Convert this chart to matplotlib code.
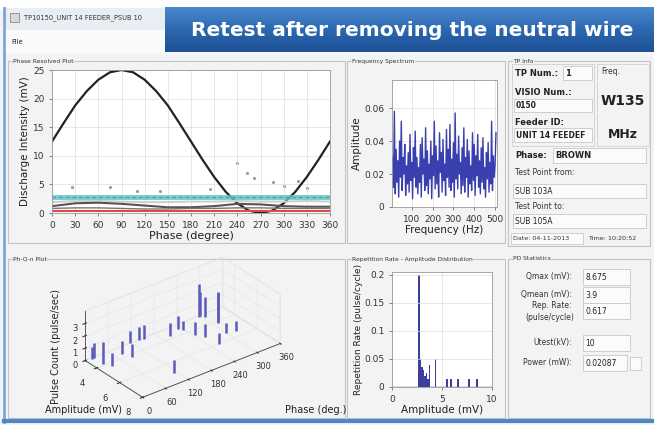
import numpy as np
import matplotlib
matplotlib.use("Agg")
import matplotlib.pyplot as plt
from matplotlib.patches import Rectangle
from matplotlib.colors import LinearSegmentedColormap

W, H = 654, 425

# --- phase resolved plot data ---
phase_deg = [0, 15, 30, 45, 60, 75, 90, 105, 120, 135, 150, 165, 180,
             195, 210, 225, 240, 255, 270, 285, 300, 315, 330, 345, 360]
sine_ref = [12.5, 15.7, 18.8, 21.3, 23.3, 24.6, 25.0, 24.6, 23.3, 21.3, 18.8, 15.7, 12.5,
            9.3, 6.3, 3.7, 1.7, 0.4, 0.0, 0.4, 1.7, 3.7, 6.3, 9.3, 12.5]
trend_phase = [0, 30, 60, 90, 120, 150, 180, 210, 240, 270, 300, 330, 360]
trend_upper = [1.9, 2.1, 2.1, 2.0, 1.9, 1.9, 2.0, 2.0, 2.1, 2.0, 2.0, 2.1, 2.0]
trend_mid = [1.2, 1.7, 1.8, 1.6, 1.3, 1.0, 1.0, 1.2, 1.6, 1.5, 1.2, 1.1, 1.1]
trend_low = [0.8, 0.9, 0.9, 0.8, 0.7, 0.7, 0.8, 0.8, 0.9, 0.9, 0.8, 0.8, 0.8]
noise_level = 2.8
threshold = 0.35
scatter_phase = [26, 75, 140, 205, 240, 252, 262, 286, 300, 318, 110, 330]
scatter_val = [4.5, 4.6, 3.9, 4.2, 8.7, 7.0, 6.1, 5.4, 4.8, 5.6, 3.8, 4.3]

# --- frequency spectrum ---
spec_amp = [0.030, 0.012, 0.058, 0.008, 0.035, 0.015, 0.028, 0.006, 0.040, 0.018,
            0.052, 0.010, 0.030, 0.020, 0.038, 0.007, 0.025, 0.014, 0.033, 0.009,
            0.044, 0.016, 0.027, 0.005, 0.036, 0.018, 0.046, 0.012, 0.030, 0.008,
            0.024, 0.015, 0.038, 0.006, 0.042, 0.020, 0.029, 0.010, 0.048, 0.013,
            0.034, 0.008, 0.026, 0.017, 0.040, 0.005, 0.031, 0.019, 0.052, 0.011,
            0.037, 0.014, 0.028, 0.006, 0.045, 0.021, 0.033, 0.009, 0.041, 0.016,
            0.026, 0.007, 0.047, 0.018, 0.035, 0.012, 0.050, 0.010, 0.029, 0.015,
            0.039, 0.006, 0.057, 0.017, 0.032, 0.011, 0.043, 0.020, 0.027, 0.008,
            0.036, 0.013, 0.048, 0.009, 0.030, 0.018, 0.041, 0.006, 0.034, 0.014,
            0.025, 0.010, 0.045, 0.016, 0.038, 0.007, 0.031, 0.019, 0.044, 0.012,
            0.028, 0.008, 0.036, 0.015, 0.042, 0.011, 0.024, 0.006, 0.033, 0.017,
            0.039, 0.009, 0.027, 0.014, 0.052, 0.010, 0.031, 0.018, 0.026, 0.045]
spec_freq = np.linspace(8, 505, len(spec_amp))

# --- repetition rate vs amplitude ---
rep_amp = [2.7, 2.85, 3.0, 3.15, 3.3, 3.45, 3.6, 3.75, 4.35, 5.5, 5.9, 6.6, 7.7, 8.5]
rep_rate = [0.2, 0.05, 0.035, 0.03, 0.02, 0.025, 0.015, 0.04, 0.05, 0.015, 0.015, 0.015, 0.015, 0.015]

# --- Ph-Q-n bars ---
bar_amp = [3.1, 3.05, 3.85, 4.3, 3.64, 3.0, 4.27, 3.0, 3.1, 3.7, 7.0, 3.36,
           3.7, 3.0, 3.1, 3.3, 4.5, 5.0, 4.2, 4.1, 6.0, 5.3, 5.45]
bar_phase = [16, 22, 22, 30, 78, 117, 83, 140, 150, 202, 113, 231,
             236, 301, 296, 305, 243, 254, 311, 314, 260, 299, 321]
bar_count = [1.0, 1.2, 1.7, 1.0, 1.05, 1.0, 1.1, 1.0, 1.1, 1.0, 1.05, 1.05,
             0.8, 1.9, 2.7, 1.6, 1.05, 1.1, 2.4, 2.4, 0.9, 0.8, 0.8]


def rect(x0, y0, x1, y1):
    return [x0 / W, 1 - y1 / H, (x1 - x0) / W, (y1 - y0) / H]


fig = plt.figure(figsize=(6.54, 4.25), dpi=100, facecolor="#f3f3f3")
bg = fig.add_axes([0, 0, 1, 1], zorder=0)
bg.set_xlim(0, W)
bg.set_ylim(H, 0)
bg.axis("off")

# window chrome
bg.add_patch(Rectangle((0, 0), W, 8, color="white"))
bg.add_patch(Rectangle((4, 8), W, 22, color="#e9eef4"))
bg.add_patch(Rectangle((4, 30), W, 22, color="#fafafa"))
bg.plot([4, 4], [8, 422], color="#7ea6d6", lw=2)
bg.plot([4, W], [421, 421], color="#4f86c6", lw=3)
bg.add_patch(Rectangle((10, 13), 9, 9, fc="#d9d9d9", ec="#888888", lw=0.6))
bg.text(24, 18, "TP10150_UNIT 14 FEEDER_PSUB 10", fontsize=4.8, va="center", color="#333333")
bg.text(11, 42, "File", fontsize=5, va="center", color="#222222")

# banner
grad = np.linspace(0, 1, 50).reshape(-1, 1)
cmap = LinearSegmentedColormap.from_list("bn", ["#4a88cc", "#2c68b0", "#1d4f95"])
bg.imshow(grad, cmap=cmap, extent=[165, W, 52, 7], aspect="auto", zorder=2)
bg.text(412, 30, "Retest after removing the neutral wire", color="white",
        fontsize=14.5, fontweight="bold", ha="center", va="center", zorder=3)

# panels
panels = [(8, 61, 345, 243, "Phase Resolved Plot"),
          (347, 61, 505, 243, "Frequency Spectrum"),
          (508, 61, 650, 246, "TP Info"),
          (8, 259, 345, 418, "Ph-Q-n Plot"),
          (347, 259, 505, 418, "Repetition Rate - Amplitude Distribution"),
          (508, 259, 650, 418, "PD Statistics")]
for x0, y0, x1, y1, name in panels:
    bg.add_patch(Rectangle((x0, y0), x1 - x0, y1 - y0, fill=False, ec="#c4c4c4", lw=0.8))
    bg.text(x0 + 5, y0, name, fontsize=4.3, va="center", color="#333333",
            bbox=dict(fc="#f3f3f3", ec="none", pad=0.3))


def field(x0, y0, x1, y1, txt="", fs=5.5, bold=False):
    bg.add_patch(Rectangle((x0, y0), x1 - x0, y1 - y0, fc="#fbfbfb", ec="#c8c8c8", lw=0.6))
    if txt:
        bg.text(x0 + 2, (y0 + y1) / 2, txt, fontsize=fs, va="center", color="#222222",
                fontweight="bold" if bold else "normal")


# TP info
bold = dict(fontsize=6, fontweight="bold", va="center", color="#222222")
norm = dict(fontsize=5.5, va="center", color="#333333")
bg.add_patch(Rectangle((512, 64), 82, 82, fill=False, ec="#d0d0d0", lw=0.6))
bg.add_patch(Rectangle((597, 64), 52, 82, fill=False, ec="#d0d0d0", lw=0.6))
bg.text(515, 73, "TP Num.:", **bold)
field(563, 66, 592, 80, "1", fs=6, bold=True)
bg.text(601, 71, "Freq.", **norm)
bg.text(515, 92, "VISIO Num.:", **bold)
field(514, 99, 592, 112, "0150", fs=5.5, bold=True)
bg.text(623, 101, "W135", fontsize=10, fontweight="bold", ha="center", va="center", color="#222222")
bg.text(515, 122, "Feeder ID:", **bold)
field(514, 128, 592, 142, "UNIT 14 FEEDEF", fs=5.5, bold=True)
bg.text(623, 134, "MHz", fontsize=9, fontweight="bold", ha="center", va="center", color="#222222")
bg.text(515, 155, "Phase:", **bold)
field(553, 148, 646, 163, "BROWN", fs=6, bold=True)
bg.text(515, 172, "Test Point from:", **norm)
field(513, 184, 646, 198, "SUB 103A", fs=5.5)
bg.text(515, 206, "Test Point to:", **norm)
field(513, 214, 646, 228, "SUB 105A", fs=5.5)
field(511, 233, 583, 244)
bg.text(513, 238.5, "Date: 04-11-2013", fontsize=4.6, va="center", color="#333333")
bg.text(588, 238.5, "Time: 10:20:52", fontsize=4.6, va="center", color="#333333")

# PD statistics
stats_lab = ["Qmax (mV):", "Qmean (mV):", "Utest(kV):", "Power (mW):"]
stats_y = [277, 295, 343, 363]
stats_val = ["8.675", "3.9", "10", "0.02087"]
for lab, yy, val in zip(stats_lab, stats_y, stats_val):
    bg.text(572, yy, lab, ha="right", **norm)
    field(583, yy - 8, 627 if lab.startswith("Power") else 630, yy + 8, val, fs=5.5)
bg.text(572, 305, "Rep. Rate:", ha="right", **norm)
bg.text(574, 317, "(pulse/cycle)", ha="right", **norm)
field(583, 303, 630, 319, "0.617", fs=5.5)
field(630, 357, 641, 370)

tick_kw = dict(labelsize=6.5, length=2, width=0.5, color="#555555", labelcolor="#333333")

# phase resolved plot
ax1 = fig.add_axes(rect(52, 70, 330, 213), zorder=2)
ax1.plot(phase_deg, sine_ref, color="#222222", lw=1.6)
ax1.plot([0, 360], [noise_level, noise_level], color="#55c6c8", lw=3.5, alpha=0.85)
ax1.plot([0, 360], [noise_level, noise_level], color="#6f8f90", lw=0.8, ls=(0, (3, 3)))
ax1.plot(trend_phase, trend_upper, color="#cfcfcf", lw=1.5)
ax1.plot(trend_phase, trend_mid, color="#555555", lw=1.5)
ax1.plot(trend_phase, trend_low, color="#777777", lw=1.0)
ax1.plot([0, 360], [threshold, threshold], color="#e04848", lw=1.5)
ax1.scatter(scatter_phase, scatter_val, s=1.5, color="#9a9a9a")
ax1.set_xlim(0, 360)
ax1.set_ylim(0, 25)
ax1.set_xticks(range(0, 361, 30))
ax1.set_yticks(range(0, 26, 5))
ax1.grid(color="#dddddd", lw=0.5)
ax1.tick_params(**tick_kw)
ax1.set_xlabel("Phase (degree)", fontsize=8, labelpad=1, color="#222222")
ax1.set_ylabel("Discharge Intensity (mV)", fontsize=7.5, labelpad=2, color="#222222")
for s in ax1.spines.values():
    s.set_color("#999999")
    s.set_linewidth(0.6)

# frequency spectrum
ax2 = fig.add_axes(rect(392, 80, 497, 207), zorder=2)
ax2.plot(spec_freq, spec_amp, color="#3a3fb0", lw=1.0)
ax2.set_xlim(5, 510)
ax2.set_ylim(0, 0.077)
ax2.set_xticks([100, 200, 300, 400, 500])
ax2.set_yticks([0, 0.02, 0.04, 0.06])
ax2.set_yticklabels(["0", "0.02", "0.04", "0.06"])
ax2.grid(color="#dddddd", lw=0.5)
ax2.tick_params(**tick_kw)
ax2.set_xlabel("Frequency (Hz)", fontsize=7.5, labelpad=1, color="#222222")
ax2.set_ylabel("Amplitude", fontsize=7.5, labelpad=2, color="#222222")
for s in ax2.spines.values():
    s.set_color("#999999")
    s.set_linewidth(0.6)

# repetition rate
ax3 = fig.add_axes(rect(392, 272, 492, 387), zorder=2)
ax3.bar(rep_amp, rep_rate, width=0.18, color="#3c3f9e")
ax3.plot([0, 10], [0, 0], color="#3c3f9e", lw=1)
ax3.set_xlim(0, 10)
ax3.set_ylim(0, 0.205)
ax3.set_xticks([0, 5, 10])
ax3.set_yticks([0, 0.05, 0.1, 0.15, 0.2])
ax3.set_yticklabels(["0", "0.05", "0.1", "0.15", "0.2"])
ax3.grid(color="#dddddd", lw=0.5)
ax3.tick_params(**tick_kw)
ax3.set_xlabel("Amplitude (mV)", fontsize=7.5, labelpad=1, color="#222222")
ax3.set_ylabel("Repetition Rate (pulse/cycle)", fontsize=6.5, labelpad=1, color="#222222")
for s in ax3.spines.values():
    s.set_color("#999999")
    s.set_linewidth(0.6)

# Ph-Q-n 3D plot
ax4 = fig.add_axes(rect(30, 230, 330, 430), projection="3d", zorder=2)
ax4.set_proj_type("ortho")
ax4.set_facecolor("none")
for a, p, c in zip(bar_amp, bar_phase, bar_count):
    ax4.plot([a, a], [p, p], [0, c], color="#5a5cbc", lw=1.8, solid_capstyle="butt")
ax4.set_xlim(3, 8)
ax4.set_ylim(0, 360)
ax4.set_zlim(0, 4)
ax4.set_xticks([4, 6, 8])
ax4.set_yticks(range(0, 361, 60))
ax4.set_zticks([0, 1, 2, 3])
ax4.view_init(elev=30, azim=-38)
ax4.set_box_aspect((93, 174, 57), zoom=1.0)
ax4.zaxis.set_ticks_position("lower")
for axis in (ax4.xaxis, ax4.yaxis, ax4.zaxis):
    axis.pane.fill = False
    axis.pane.set_edgecolor("#dddddd")
    axis._axinfo["grid"]["color"] = "#e6e6e6"
    axis._axinfo["grid"]["linewidth"] = 0.5
    axis.line.set_color("#444444")
    axis.line.set_linewidth(0.6)
ax4.tick_params(labelsize=6, pad=0, colors="#333333")
ax4.tick_params(axis="z", pad=-4)
bg.text(45, 410, "Amplitude (mV)", fontsize=7, va="center", color="#222222")
bg.text(285, 410, "Phase (deg.)", fontsize=7, va="center", color="#222222")
bg.text(56, 347, "Pulse Count (pulse/sec)", fontsize=7, rotation=90, ha="center", va="center",
        color="#222222")

fig.savefig("out.png", dpi=100, facecolor=fig.get_facecolor())
